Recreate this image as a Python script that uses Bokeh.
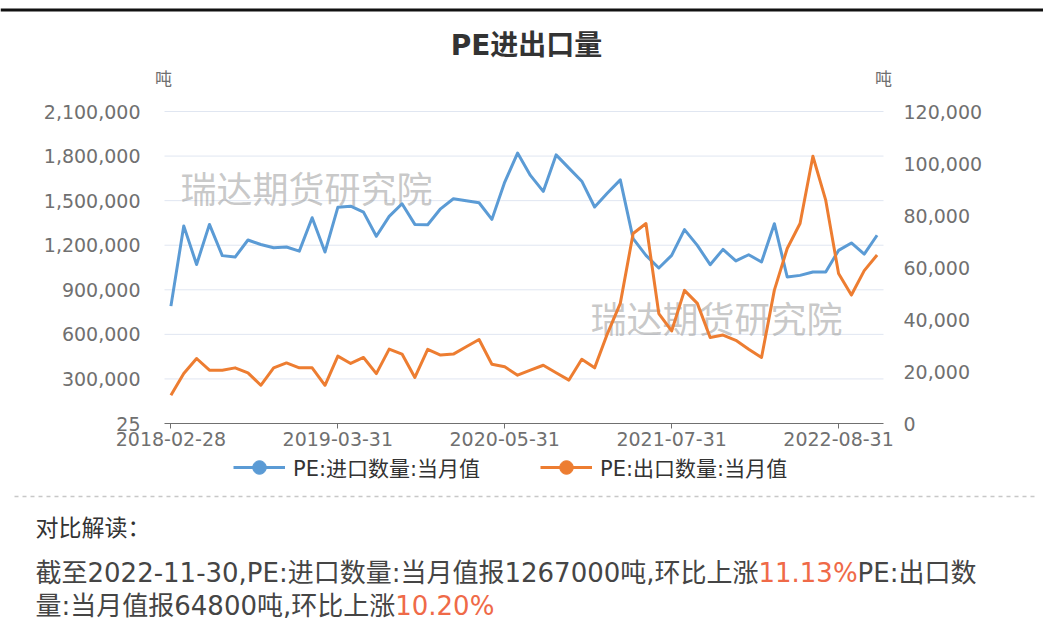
from bokeh.plotting import figure
from bokeh.models import (Range1d, LinearAxis, FixedTicker, NumeralTickFormatter,
                          Legend, LegendItem, ColumnDataSource)
from bokeh.embed import file_html
from bokeh.resources import INLINE
from bokeh.core.properties import value

# ---------------- data ----------------
dates = [
    "2018-02-28", "2018-03-31", "2018-04-30", "2018-05-31", "2018-06-30", "2018-07-31",
    "2018-08-31", "2018-09-30", "2018-10-31", "2018-11-30", "2018-12-31",
    "2019-01-31", "2019-02-28", "2019-03-31", "2019-04-30", "2019-05-31", "2019-06-30",
    "2019-07-31", "2019-08-31", "2019-09-30", "2019-10-31", "2019-11-30", "2019-12-31",
    "2020-02-29", "2020-03-31", "2020-04-30", "2020-05-31", "2020-06-30", "2020-07-31",
    "2020-08-31", "2020-09-30", "2020-10-31", "2020-11-30", "2020-12-31",
    "2021-02-28", "2021-03-31", "2021-04-30", "2021-05-31", "2021-06-30", "2021-07-31",
    "2021-08-31", "2021-09-30", "2021-10-31", "2021-11-30", "2021-12-31",
    "2022-01-31", "2022-02-28", "2022-03-31", "2022-04-30", "2022-05-31", "2022-06-30",
    "2022-07-31", "2022-08-31", "2022-09-30", "2022-10-31", "2022-11-30",
]

import_vals = [
    790000, 1330000, 1070000, 1340000, 1130000, 1120000, 1235000, 1205000, 1183000, 1188000,
    1160000, 1385000, 1154000, 1455000, 1463000, 1423000, 1260000, 1394000, 1479000, 1340000,
    1338000, 1445000, 1513000, 1500000, 1486000, 1374000, 1625000, 1820000, 1670000, 1562000,
    1808000, 1719000, 1631000, 1457000, 1551000, 1640000, 1244000, 1132000, 1047000, 1132000,
    1305000, 1199000, 1069000, 1172000, 1094000, 1136000, 1087000, 1345000, 986000, 997000,
    1020000, 1020000, 1165000, 1215000, 1140000, 1267000,
]

export_vals = [
    10900, 19200, 25000, 20500, 20500, 21400, 19500, 14700, 21400, 23300,
    21400, 21400, 14700, 25900, 23100, 25400, 19200, 28600, 26700, 17700,
    28500, 26300, 26700, 29500, 32300, 22800, 21800, 18600, 20500, 22400,
    19500, 16700, 24700, 21400, 34600, 46200, 73100, 76900, 42300, 35600,
    51200, 46200, 33100, 34000, 32000, 28600, 25400, 51300, 67300, 76900,
    102800, 85900, 57700, 49400, 58800, 64800,
]

series_names = ["PE:进口数量:当月值", "PE:出口数量:当月值"]
left_ticks = [25, 300000, 600000, 900000, 1200000, 1500000, 1800000, 2100000]
right_ticks = [0, 20000, 40000, 60000, 80000, 100000, 120000]
x_label_idx = [0, 13, 26, 39, 52]

title_text = "PE进出口量"
unit_text = "吨"
watermark = "瑞达期货研究院"
head_text = "对比解读："
line1 = [("截至2022-11-30,PE:进口数量:当月值报1267000吨,环比上涨", "n"),
         ("11.13%", "h"), ("PE:出口数", "n")]
line2 = [("量:当月值报64800吨,环比上涨", "n"), ("10.20%", "h")]

# ---------------- style / geometry ----------------
BLUE = "#5B9BD5"
ORANGE = "#ED7D31"
AXIS_C = "#707070"
GRID_C = "#E0E6F1"
TEXT_C = "#454545"
HIGHLIGHT = "#ef6a48"
FONT_MIX = "DejaVu Sans, Noto Sans CJK SC"

W, H = 1043, 632          # canvas
# chart area in canvas pixels
CL, CR, CT, CB = 164, 883, 111, 423

N = len(dates)
xa0, xa1 = -0.5, N - 0.5
ya0, ya1 = left_ticks[0], left_ticks[-1]
yr0, yr1 = right_ticks[0], right_ticks[-1]

sx = (CR - CL) / (xa1 - xa0)          # px per x unit
syl = (CB - CT) / (ya1 - ya0)         # px per left unit
syr = (CB - CT) / (yr1 - yr0)         # px per right unit

x_range = Range1d(xa0 - CL / sx, xa1 + (W - CR) / sx)
y_range = Range1d(ya0 - (H - CB) / syl, ya1 + CT / syl)
r_range = Range1d(yr0 - (H - CB) / syr, yr1 + CT / syr)


def X(px):  # canvas px -> data x
    return xa0 + (px - CL) / sx


def Y(py):  # canvas py -> left-axis data y
    return ya0 + (CB - py) / syl


src = ColumnDataSource(dict(x=list(range(N)), imp=import_vals, exp=export_vals))

p = figure(width=W, height=H, min_border=0, x_range=x_range, y_range=y_range,
           x_axis_location=None, y_axis_location=None,
           output_backend="svg", toolbar_location=None, outline_line_color=None,
           background_fill_color="white", border_fill_color="white")
p.extra_y_ranges = {"right": r_range}
p.grid.visible = False

TICK_FS = "19px"

# ---------------- axes (fixed at the chart edges) ----------------
yl = LinearAxis(fixed_location=xa0, ticker=FixedTicker(ticks=left_ticks),
                formatter=NumeralTickFormatter(format="0,0"))
yl.axis_line_color = None
yl.major_tick_line_color = None
yl.minor_tick_line_color = None
yl.major_label_standoff = 18
yl.major_label_text_font = "DejaVu Sans"
yl.major_label_text_font_size = TICK_FS
yl.major_label_text_color = AXIS_C
p.add_layout(yl, "left")

yr = LinearAxis(y_range_name="right", fixed_location=xa1, ticker=FixedTicker(ticks=right_ticks),
                formatter=NumeralTickFormatter(format="0,0"))
yr.axis_line_color = None
yr.major_tick_line_color = None
yr.minor_tick_line_color = None
yr.major_label_standoff = 14
yr.major_label_text_font = "DejaVu Sans"
yr.major_label_text_font_size = TICK_FS
yr.major_label_text_color = AXIS_C
p.add_layout(yr, "right")

xa = LinearAxis(fixed_location=ya0, bounds=(xa0, xa1), ticker=FixedTicker(ticks=x_label_idx))
xa.major_label_overrides = {i: dates[i] for i in x_label_idx}
xa.axis_line_color = AXIS_C
xa.axis_line_width = 1.2
xa.major_tick_line_color = AXIS_C
xa.major_tick_out = 5
xa.major_tick_in = 0
xa.minor_tick_line_color = None
xa.major_label_standoff = 3
xa.major_label_text_font = "DejaVu Sans"
xa.major_label_text_font_size = TICK_FS
xa.major_label_text_color = AXIS_C
p.add_layout(xa, "below")

# grid lines across the chart area
grid_src = ColumnDataSource(dict(y=left_ticks[1:], x0=[xa0] * (len(left_ticks) - 1),
                                 x1=[xa1] * (len(left_ticks) - 1)))
p.segment(x0="x0", x1="x1", y0="y", y1="y", source=grid_src, line_color=GRID_C, line_width=1)

# watermarks
p.text(x=[X(180), X(590)], y=[Y(190), Y(320)], text=[watermark, watermark],
       text_font=value(FONT_MIX), text_font_size="36px", text_color="#9a9a9a",
       text_alpha=0.55, text_align="left", text_baseline="middle")

# ---------------- series ----------------
r_imp = p.line("x", "imp", source=src, line_color=BLUE, line_width=3, line_join="round")
r_exp = p.line("x", "exp", source=src, y_range_name="right", line_color=ORANGE,
               line_width=3, line_join="round")
s_imp = p.scatter("x", "imp", source=src, size=12, fill_color=BLUE, line_color=BLUE, visible=False)
s_exp = p.scatter("x", "exp", source=src, y_range_name="right", size=12, fill_color=ORANGE,
                  line_color=ORANGE, visible=False)

LG_H = 34
legend = Legend(items=[LegendItem(label=series_names[0], renderers=[r_imp, s_imp]),
                       LegendItem(label=series_names[1], renderers=[r_exp, s_exp])],
                orientation="horizontal", location=(233, H - 467 - LG_H // 2),
                border_line_color=None, background_fill_alpha=0, padding=0, margin=0,
                spacing=60, label_standoff=8, glyph_width=52, glyph_height=LG_H,
                label_height=LG_H, label_text_font=FONT_MIX, label_text_font_size="21px",
                label_text_color="#333333", label_text_baseline="middle")
p.add_layout(legend)

# ---------------- title, units, top rule ----------------
p.quad(left=[X(0)], right=[X(W)], top=[Y(8)], bottom=[Y(11)], fill_color="#111111",
       line_color=None)
p.text(x=[X(526)], y=[Y(45)], text=[title_text], text_font=value(FONT_MIX),
       text_font_size="28px", text_font_style="bold", text_color="#333333",
       text_align="center", text_baseline="middle")
p.text(x=[X(163), X(883)], y=[Y(78), Y(78)], text=[unit_text, unit_text],
       text_font=value(FONT_MIX), text_font_size="17px", text_color=AXIS_C,
       text_align="center", text_baseline="middle")

# ---------------- commentary ----------------
p.line([X(14), X(1035)], [Y(496), Y(496)], line_color="#c8c8c8", line_width=1.5,
       line_dash="4 4")
p.text(x=[X(35)], y=[Y(527)], text=[head_text], text_font=value(FONT_MIX),
       text_font_size="23px", text_color="#333333", text_align="left", text_baseline="middle")


def tw(s, fs):
    w = 0.0
    for ch in s:
        if ord(ch) > 0x2E80:
            w += 1.0
        elif ch.isdigit():
            w += 0.636
        elif ch in ",.":
            w += 0.318
        elif ch == "-":
            w += 0.361
        elif ch == ":":
            w += 0.337
        elif ch == "%":
            w += 0.950
        elif ch == "P":
            w += 0.603
        elif ch == "E":
            w += 0.632
        else:
            w += 0.6
    return w * fs


FS = 26
tx, ty, tt, tc = [], [], [], []
for segs, py in [(line1, 572), (line2, 605)]:
    cx = 35.0
    for s, kind in segs:
        tx.append(X(cx))
        ty.append(Y(py))
        tt.append(s)
        tc.append(HIGHLIGHT if kind == "h" else TEXT_C)
        cx += tw(s, FS)
p.text(x=tx, y=ty, text=tt, text_color=tc, text_font=value(FONT_MIX),
       text_font_size=f"{FS}px", text_baseline="middle", text_align="left")

open("out.html", "w").write(file_html(p, INLINE))
